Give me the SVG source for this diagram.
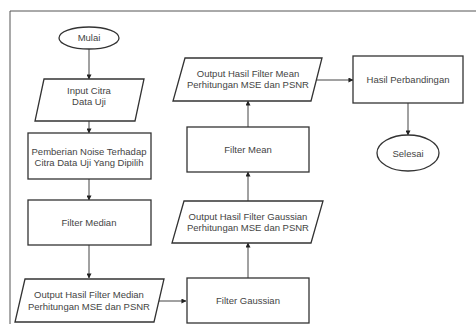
<svg xmlns="http://www.w3.org/2000/svg" width="476" height="324" viewBox="0 0 476 324">
<defs>
<style>
.s{fill:#fff;stroke:#333;stroke-width:1.3}
.t{font-family:"Liberation Sans",Arial,sans-serif;font-size:9.5px;fill:#444;text-anchor:middle}
.c{fill:none;stroke:#444;stroke-width:1;marker-end:url(#a)}
</style>
<marker id="a" viewBox="0 0 6 6" refX="5.5" refY="3" markerWidth="5" markerHeight="5" orient="auto"><path d="M0,0L6,3L0,6z" fill="#222"/></marker>
</defs>
<rect width="476" height="324" fill="#fff"/>
<path d="M10,324V11H476" fill="none" stroke="#555" stroke-width="1"/>
<g id="connectors">
<path class="c" d="M89,49V79"/>
<path class="c" d="M89,121V133"/>
<path class="c" d="M89,179V200"/>
<path class="c" d="M89,245V278"/>
<path class="c" d="M159,301H186"/>
<path class="c" d="M248,278V243"/>
<path class="c" d="M248,201V172"/>
<path class="c" d="M248,127V101"/>
<path class="c" d="M317,80H353"/>
<path class="c" d="M408,103V135"/>
</g>
<g id="mulai"><ellipse class="s" cx="89" cy="38" rx="30" ry="11"/><text class="t" x="89" y="41">Mulai</text></g>
<g id="input"><path class="s" d="M44,79H144L135,121H35Z"/><text class="t" x="89" y="94">Input Citra</text><text class="t" x="89" y="105">Data Uji</text></g>
<g id="noise"><rect class="s" x="28" y="133" width="123" height="46"/><text class="t" x="89" y="155">Pemberian Noise Terhadap</text><text class="t" x="89" y="166">Citra Data Uji Yang Dipilih</text></g>
<g id="median"><rect class="s" x="28" y="200" width="123" height="45"/><text class="t" x="89" y="226">Filter Median</text></g>
<g id="outmedian"><path class="s" d="M25,279H164L154,322H15Z"/><text class="t" x="89" y="298">Output Hasil Filter Median</text><text class="t" x="89" y="310">Perhitungan MSE dan PSNR</text></g>
<g id="gaussian"><rect class="s" x="187" y="278" width="122" height="45"/><text class="t" x="248" y="304">Filter Gaussian</text></g>
<g id="outgaussian"><path class="s" d="M184,201H323L311,243H172Z"/><text class="t" x="248" y="220">Output Hasil Filter Gaussian</text><text class="t" x="248" y="231">Perhitungan MSE dan PSNR</text></g>
<g id="mean"><rect class="s" x="187" y="127" width="122" height="45"/><text class="t" x="248" y="153">Filter Mean</text></g>
<g id="outmean"><path class="s" d="M185,58H322L311,101H173Z"/><text class="t" x="248" y="77">Output Hasil Filter Mean</text><text class="t" x="248" y="88">Perhitungan MSE dan PSNR</text></g>
<g id="hasil"><rect class="s" x="353" y="56" width="110" height="47"/><text class="t" x="408" y="83">Hasil Perbandingan</text></g>
<g id="selesai"><ellipse class="s" cx="408" cy="153" rx="31" ry="18"/><text class="t" x="408" y="157">Selesai</text></g>
</svg>
